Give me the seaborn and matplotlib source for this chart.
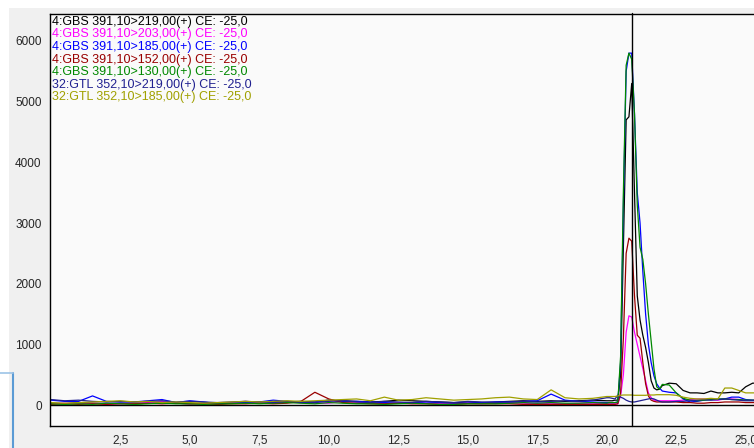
import matplotlib
matplotlib.use("Agg")
from matplotlib import pyplot as plt
from matplotlib.lines import Line2D
from matplotlib.patches import Rectangle
import numpy as np
import pandas as pd
import seaborn as sns

# sampling grid: coarse baseline, fine around the peak, medium tail
time_base = np.arange(0.0, 20.01, 0.5)
time_peak = np.arange(20.1, 22.01, 0.1)
time_tail = np.arange(22.25, 25.51, 0.25)
time_min = np.round(np.concatenate([time_base, time_peak, time_tail]), 2)

trace_names = [
    "4:GBS 391,10>219,00(+) CE: -25,0",
    "4:GBS 391,10>203,00(+) CE: -25,0",
    "4:GBS 391,10>185,00(+) CE: -25,0",
    "4:GBS 391,10>152,00(+) CE: -25,0",
    "4:GBS 391,10>130,00(+) CE: -25,0",
    "32:GTL 352,10>219,00(+) CE: -25,0",
    "32:GTL 352,10>185,00(+) CE: -25,0",
]
trace_colors = ["#000000", "#ff00ff", "#0000ff", "#990000", "#008800", "#202090", "#a0a000"]

gbs_219 = ([30, 20, 40, 30, 20, 30, 20, 30, 40, 30, 20, 30, 20, 30, 40, 50, 60, 50, 60, 50, 80,
            70, 60, 50, 60, 80, 70, 60, 50, 40, 50, 40, 50, 60, 70, 60, 70, 60, 70, 80, 70]
           + [70, 70, 80, 80, 500, 2600, 4700, 4750, 5300, 3500, 1800, 1400, 1150, 950, 700, 400,
              280, 250, 260, 320]
           + [360, 350, 240, 200, 200, 190, 230, 200, 200, 210, 200, 300, 360, 360])
gbs_203 = ([20, 30, 20, 30, 20, 20, 30, 40, 60, 30, 20, 20, 30, 40, 60, 40, 30, 50, 40, 30, 30,
            60, 50, 30, 20, 30, 40, 30, 20, 20, 30, 20, 30, 40, 30, 20, 30, 20, 30, 30, 20]
           + [20, 20, 20, 20, 150, 500, 1200, 1470, 1450, 1200, 1000, 800, 600, 400, 200, 120,
              80, 70, 70, 70]
           + [70, 70, 80, 90, 100, 100, 90, 80, 100, 100, 90, 80, 80, 80])
gbs_185 = ([80, 60, 60, 150, 60, 50, 50, 70, 90, 40, 70, 50, 20, 30, 40, 50, 80, 60, 40, 50, 80,
            60, 60, 50, 40, 30, 40, 50, 40, 30, 30, 40, 50, 50, 60, 70, 180, 80, 60, 50, 40]
           + [40, 40, 40, 50, 700, 3300, 5500, 5800, 5800, 4800, 3500, 3000, 2200, 1500, 1000, 700,
              480, 350, 280, 230]
           + [210, 200, 100, 50, 60, 80, 90, 90, 100, 130, 130, 90, 80, 80])
gbs_152 = ([10, 20, 10, 20, 10, 20, 20, 30, 20, 30, 20, 20, 10, 20, 20, 30, 20, 30, 60, 210, 100,
            40, 30, 20, 20, 30, 20, 20, 10, 10, 20, 20, 20, 20, 10, 10, 10, 10, 10, 10, 10]
           + [10, 10, 10, 20, 200, 1100, 2500, 2750, 2700, 1800, 1150, 1100, 700, 350, 150, 80,
              60, 50, 50, 50]
           + [50, 50, 40, 40, 30, 30, 40, 40, 50, 50, 50, 40, 40, 40])
gbs_130 = ([20, 10, 20, 10, 30, 20, 10, 20, 30, 20, 20, 10, 20, 20, 30, 20, 30, 40, 30, 20, 40,
            30, 20, 20, 10, 20, 30, 20, 10, 10, 20, 20, 20, 30, 40, 30, 40, 30, 30, 40, 30]
           + [40, 40, 40, 50, 800, 3500, 5600, 5800, 5700, 4800, 3300, 2600, 2400, 2000, 1500, 1050,
              600, 300, 260, 340]
           + [330, 200, 110, 80, 70, 80, 90, 100, 100, 90, 90, 80, 80, 80])
gtl_219 = ([90, 70, 80, 60, 50, 60, 50, 60, 70, 50, 60, 50, 40, 50, 60, 50, 40, 60, 50, 40, 60,
            70, 50, 40, 60, 50, 40, 60, 50, 40, 60, 50, 40, 50, 60, 50, 60, 70, 60, 80, 120]
           + [120, 110, 100, 160, 130, 110, 80, 60, 50, 50, 60, 70, 80, 90, 100, 110, 100, 80, 60, 50]
           + [50, 60, 60, 70, 80, 90, 80, 90, 100, 90, 80, 70, 70, 70])
gtl_185 = ([40, 30, 40, 50, 60, 70, 50, 60, 40, 50, 40, 30, 40, 50, 60, 50, 60, 70, 60, 70, 80,
            90, 100, 70, 130, 80, 90, 120, 100, 80, 90, 100, 120, 130, 100, 90, 250, 120, 100, 110, 140]
           + [140, 140, 140, 150, 160, 165, 165, 165, 165, 160, 160, 160, 160, 160, 165, 165, 165,
              170, 170, 170]
           + [170, 160, 130, 110, 100, 100, 110, 100, 280, 280, 240, 200, 200, 200])

trace_values = [gbs_219, gbs_203, gbs_185, gbs_152, gbs_130, gtl_219, gtl_185]
cursor_time = 20.92

y_ticks = [0, 1000, 2000, 3000, 4000, 5000, 6000]
x_ticks = [2.5, 5.0, 7.5, 10.0, 12.5, 15.0, 17.5, 20.0, 22.5, 25.0]
x_tick_labels = ["2,5", "5,0", "7,5", "10,0", "12,5", "15,0", "17,5", "20,0", "22,5", "25,0"]

# long table for seaborn
frames = []
for name, values in zip(trace_names, trace_values):
    frames.append(pd.DataFrame({"time": time_min, "intensity": values, "trace": name}))
df = pd.concat(frames, ignore_index=True)

sns.set_style("white")
plt.rcParams["font.family"] = ["Liberation Sans", "DejaVu Sans"]

fig = plt.figure(figsize=(7.54, 4.48), dpi=100, facecolor="#f0f0f0")
# window chrome around the plot
fig.add_artist(Rectangle((0, 440 / 448), 1, 8 / 448, transform=fig.transFigure,
                         facecolor="white", edgecolor="none"))
fig.add_artist(Rectangle((0, 0), 9 / 754, 1, transform=fig.transFigure,
                         facecolor="white", edgecolor="none"))
fig.add_artist(Line2D([12.5 / 754, 12.5 / 754], [0, 75 / 448], transform=fig.transFigure,
                      color="#5b9bd5", lw=1.5))
fig.add_artist(Line2D([0, 12.5 / 754], [75 / 448, 75 / 448], transform=fig.transFigure,
                      color="#9cc3e6", lw=1.2))

ax = fig.add_axes([50 / 754, 22 / 448, 704 / 754, 412 / 448])
ax.set_facecolor("#fafafa")

sns.lineplot(data=df, x="time", y="intensity", hue="trace", hue_order=trace_names,
             palette=dict(zip(trace_names, trace_colors)), estimator=None, sort=False,
             legend=False, lw=0.9, ax=ax)

ax.axhline(0, color="black", lw=1.0, zorder=1)
ax.axvline(cursor_time, color="black", lw=1.0, zorder=5, clip_on=False, ymax=1.003)

ax.set_xlim(-0.03, 25.3)
ax.set_ylim(-346, 6445)
ax.set_xlabel("")
ax.set_ylabel("")

ax.set_yticks(y_ticks)
ax.set_yticklabels([str(v) for v in y_ticks])
ax.set_yticks(np.arange(-200, 6401, 200), minor=True)
ax.set_xticks(x_ticks)
ax.set_xticklabels(x_tick_labels)
ax.set_xticks(np.arange(0.5, 25.3, 0.5), minor=True)
ax.tick_params(axis="both", which="major", direction="out", length=4.5, width=0.8,
               color="black", labelsize=8.5, pad=1.5)
ax.tick_params(axis="both", which="minor", direction="out", length=2.5, width=0.8,
               color="black")

for side in ["left", "bottom", "top"]:
    ax.spines[side].set_color("black")
    ax.spines[side].set_linewidth(1.0)
ax.spines["right"].set_visible(False)

# coloured trace names in the top left corner
for i, (name, color) in enumerate(zip(trace_names, trace_colors)):
    y_px = 21.7 + i * 12.6
    ax.text(2 / 704, 1 - (y_px - 14) / 412, name, transform=ax.transAxes,
            color=color, fontsize=9, va="center", ha="left")

fig.savefig("out.png", dpi=100, facecolor=fig.get_facecolor())
